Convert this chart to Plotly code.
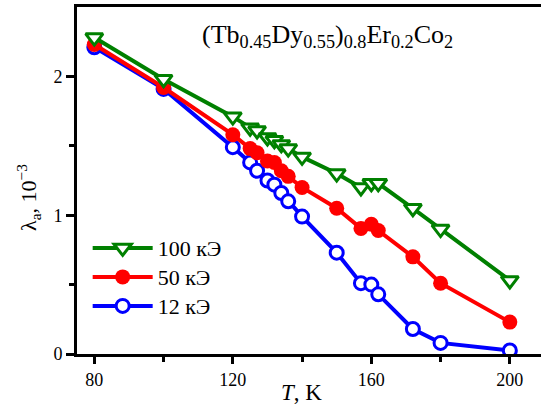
import plotly.graph_objects as go

T = [80, 100, 120, 125, 127, 130, 132, 134, 136, 140, 150, 157, 160, 162, 172, 180, 200]
lam_100 = [2.28, 1.98, 1.71, 1.63, 1.61, 1.56, 1.54, 1.51, 1.48, 1.42, 1.30, 1.20, 1.23, 1.23, 1.05, 0.90, 0.53]
lam_50 = [2.23, 1.92, 1.58, 1.48, 1.45, 1.39, 1.38, 1.32, 1.28, 1.20, 1.05, 0.905, 0.935, 0.89, 0.70, 0.51, 0.23]
lam_12 = [2.21, 1.91, 1.49, 1.38, 1.32, 1.25, 1.22, 1.16, 1.10, 0.99, 0.73, 0.51, 0.50, 0.43, 0.18, 0.08, 0.025]

x_ticks = [80, 120, 160, 200]
y_ticks = [0, 1, 2]

FONT = "Times New Roman, Liberation Serif, Tinos, serif"


def big(s):
    return '<span style="font-size:22px">' + s + '</span>'


fig = go.Figure()
fig.add_trace(go.Scatter(
    x=T, y=lam_12, name=big("12 кЭ"), mode="lines+markers",
    line=dict(color="#0000ff", width=4),
    marker=dict(symbol="circle", size=13, color="white", line=dict(color="#0000ff", width=3)),
))
fig.add_trace(go.Scatter(
    x=T, y=lam_50, name=big("50 кЭ"), mode="lines+markers",
    line=dict(color="#ff0000", width=4),
    marker=dict(symbol="circle", size=15, color="#ff0000", line=dict(color="#ff0000", width=0)),
))
fig.add_trace(go.Scatter(
    x=T, y=lam_100, name=big("100 кЭ"), mode="lines+markers",
    line=dict(color="#008000", width=4),
    marker=dict(symbol="triangle-down", size=15, color="white", line=dict(color="#008000", width=3)),
))

fig.update_layout(
    width=541, height=412,
    margin=dict(l=77, r=0, t=7, b=58),
    paper_bgcolor="white", plot_bgcolor="white",
    font=dict(family=FONT, color="black", size=18),
    showlegend=True,
    legend=dict(
        x=0.023, y=0.362, xanchor="left", yanchor="top",
        traceorder="reversed", font=dict(family=FONT, size=20, color="black"),
        bgcolor="rgba(0,0,0,0)", itemwidth=60,
    ),
    xaxis=dict(
        range=[75, 209], tickvals=x_ticks, ticktext=[str(v) for v in x_ticks],
        showline=True, linecolor="black", linewidth=3, mirror=True,
        ticks="outside", ticklen=7, tickwidth=2.5, tickcolor="black",
        minor=dict(tickvals=[100, 140, 180], ticks="outside", ticklen=5, tickwidth=2.5, tickcolor="black"),
        showgrid=False, zeroline=False,
        tickfont=dict(family=FONT, size=18, color="black"),
    ),
    yaxis=dict(
        range=[0, 2.5], tickvals=y_ticks, ticktext=[str(v) for v in y_ticks],
        showline=True, linecolor="black", linewidth=3, mirror=False,
        ticks="outside", ticklen=8, tickwidth=2.5, tickcolor="black",
        minor=dict(tickvals=[0.5, 1.5], ticks="outside", ticklen=5, tickwidth=2.5, tickcolor="black"),
        showgrid=False, zeroline=False,
        tickfont=dict(family=FONT, size=18, color="black"),
    ),
    annotations=[
        dict(
            text="(Tb<sub>0.45</sub>Dy<sub>0.55</sub>)<sub>0.8</sub>Er<sub>0.2</sub>Co<sub>2</sub>",
            xref="paper", yref="paper", x=0.539, y=0.915, xanchor="center", yanchor="middle",
            showarrow=False, font=dict(family=FONT, size=26, color="black"),
        ),
        dict(
            text="λ<sub>a</sub>, 10<sup>−3</sup>",
            xref="paper", yref="paper", x=-0.106, y=0.452, xanchor="center", yanchor="middle",
            textangle=-90, showarrow=False, font=dict(family=FONT, size=22, color="black"),
        ),
        dict(
            text="<i>T</i>, K",
            xref="paper", yref="paper", x=0.483, y=-0.11, xanchor="center", yanchor="middle",
            showarrow=False, font=dict(family=FONT, size=23, color="black"),
        ),
    ],
)

fig.write_html(
    "out.html",
    config={"displayModeBar": False},
    post_script="document.body.style.margin='0';document.body.style.overflow='hidden';",
)
